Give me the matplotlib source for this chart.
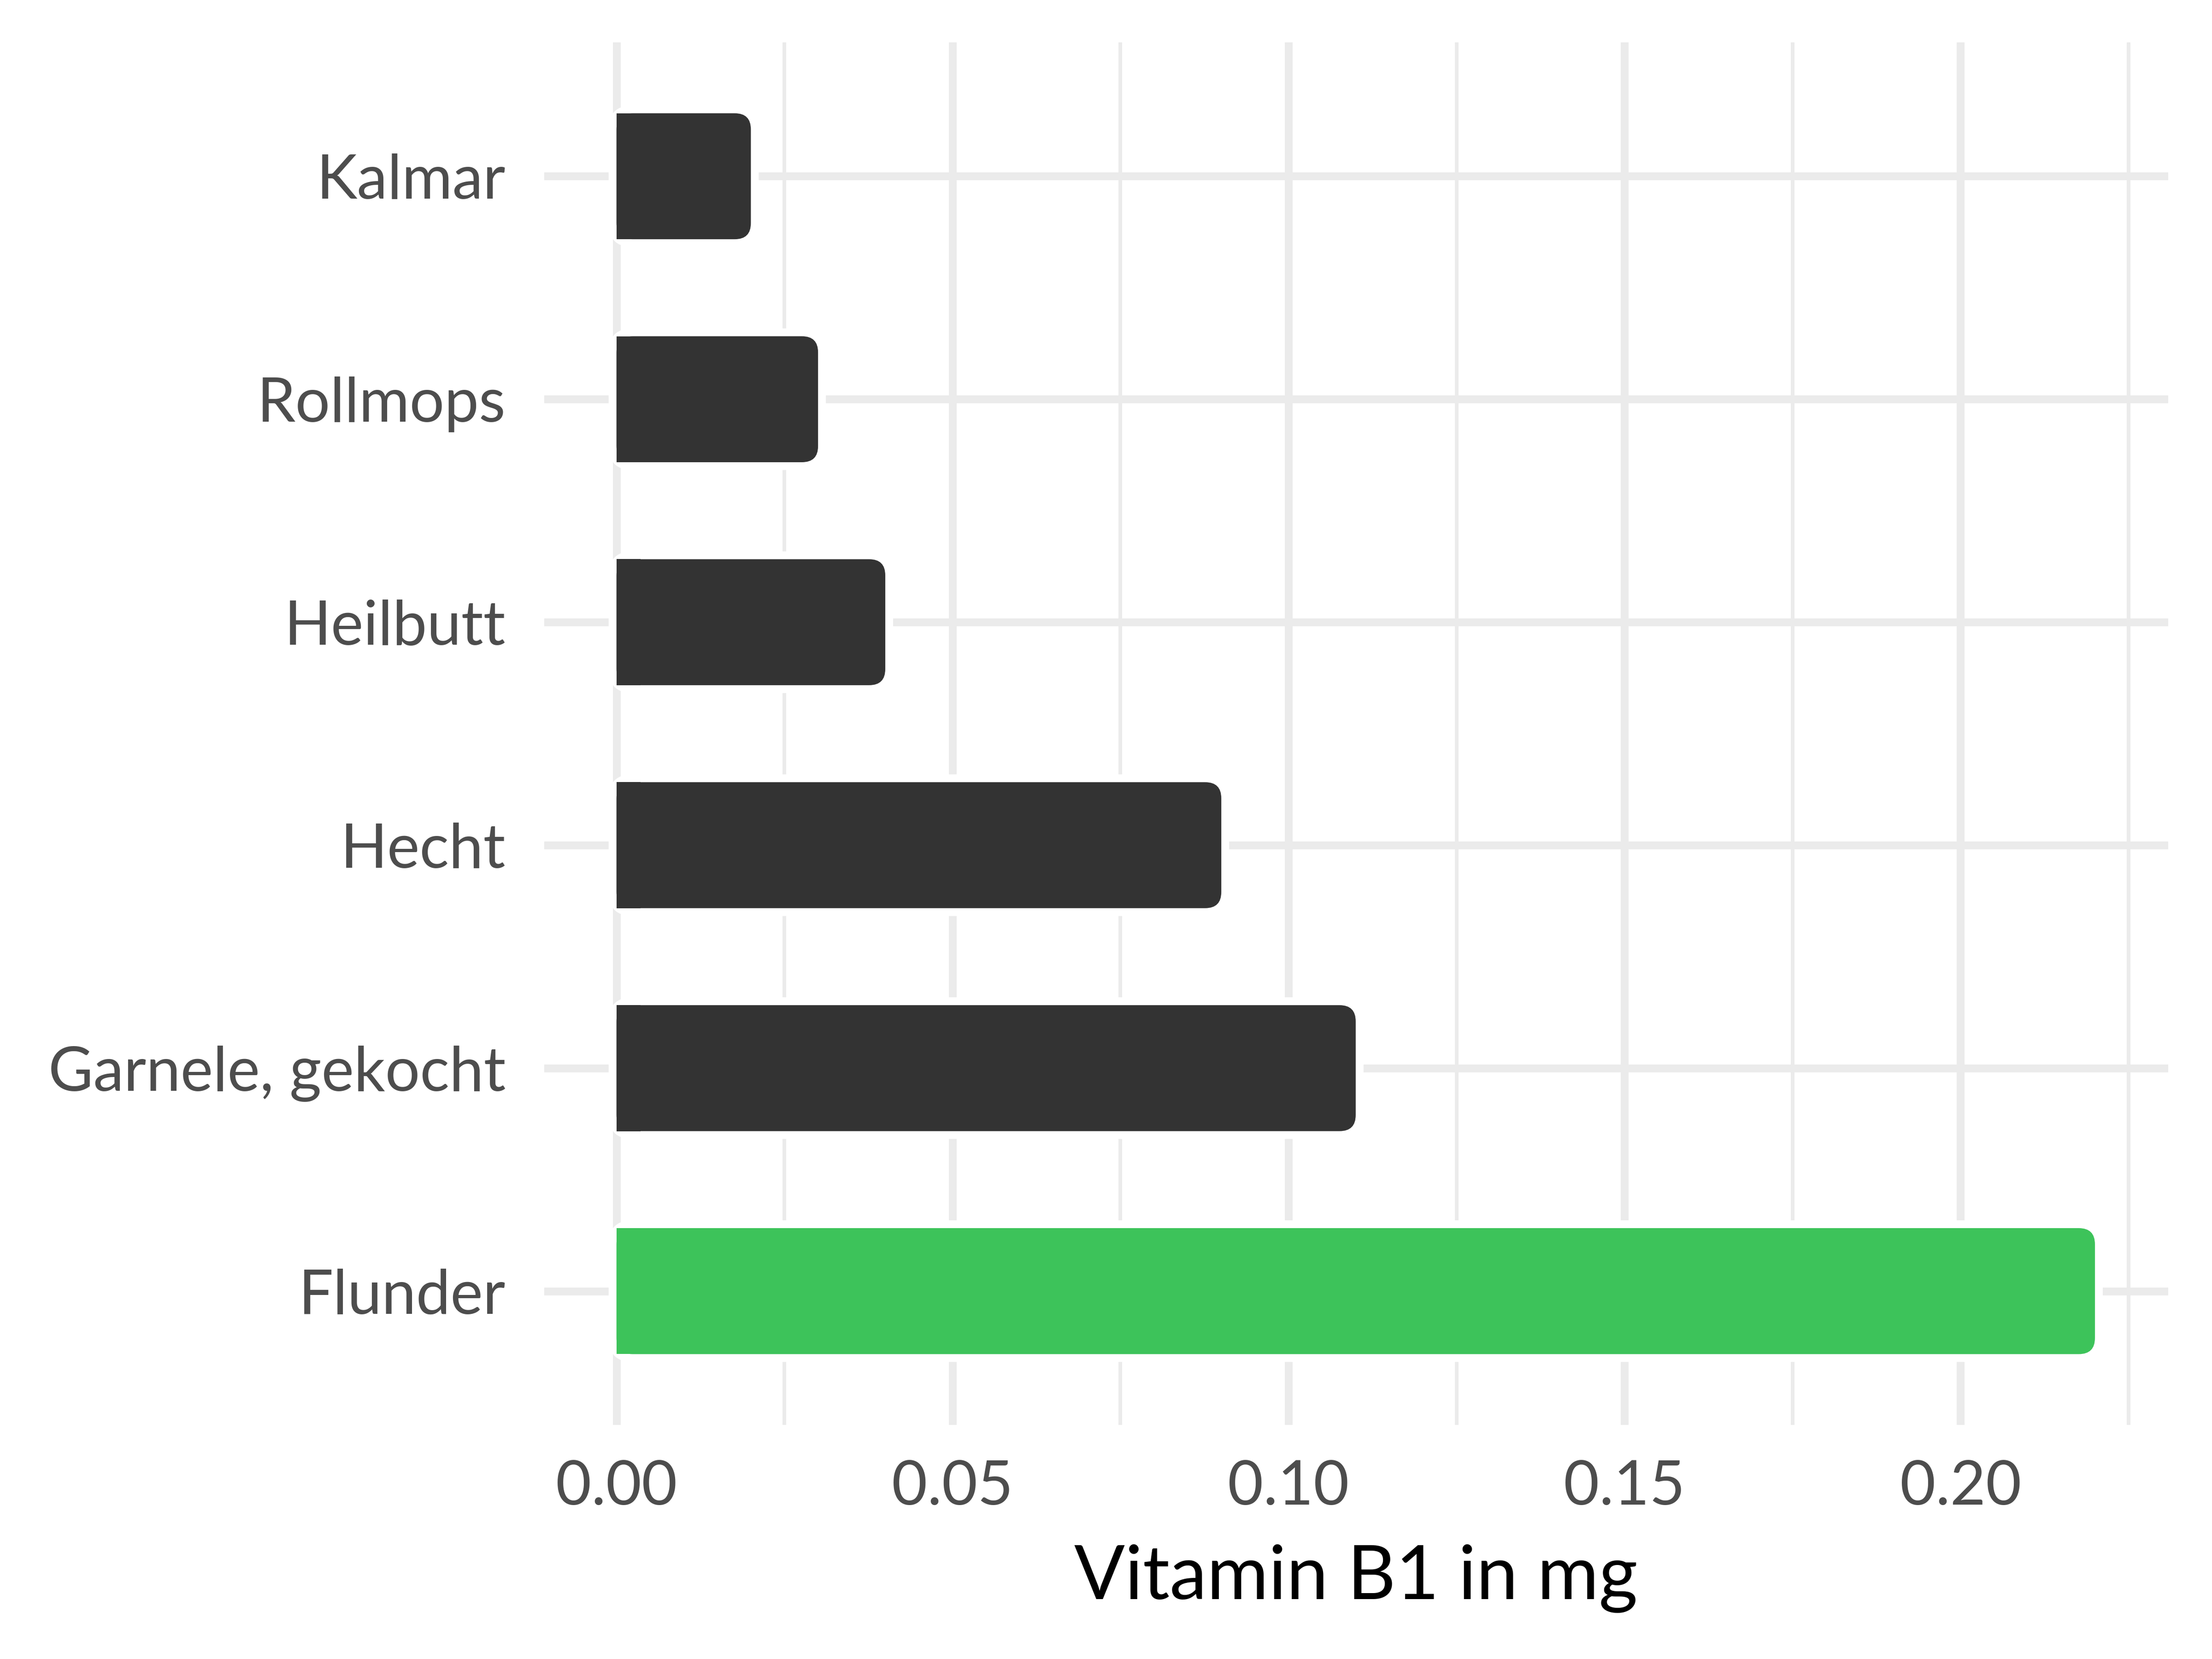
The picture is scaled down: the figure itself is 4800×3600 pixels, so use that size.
import matplotlib
matplotlib.use("Agg")
import matplotlib.pyplot as plt
from matplotlib.patches import FancyBboxPatch, Rectangle

categories = ["Flunder", "Garnele, gekocht", "Hecht", "Heilbutt", "Rollmops", "Kalmar"]
values = [0.22, 0.11, 0.09, 0.04, 0.03, 0.02]
highlight = "Flunder"
major_ticks = [0.00, 0.05, 0.10, 0.15, 0.20]
minor_ticks = [0.025, 0.075, 0.125, 0.175, 0.225]
tick_labels = ["0.00", "0.05", "0.10", "0.15", "0.20"]
xlabel = "Vitamin B1 in mg"

plt.rcParams['font.family'] = ['Lato', 'DejaVu Sans']

W, H, DPI = 16, 12, 300
fig = plt.figure(figsize=(W, H), dpi=DPI)
pos = [0.2460, 0.1411, 0.9802 - 0.2460, 0.9744 - 0.1411]
ax = fig.add_axes(pos)

xlim = (-0.01076, 0.2309)
ylim = (0.4, len(categories) + 0.6)
ax.set_xlim(*xlim)
ax.set_ylim(*ylim)

px_x = pos[2] * W * DPI / (xlim[1] - xlim[0])
px_y = pos[3] * H * DPI / (ylim[1] - ylim[0])
aspect = px_x / px_y

grid_c = "#ebebeb"
major_lw = 17 / DPI * 72
minor_lw = 8 / DPI * 72
for t in major_ticks:
    ax.axvline(t, color=grid_c, lw=major_lw, zorder=0)
for t in minor_ticks:
    ax.axvline(t, color=grid_c, lw=minor_lw, zorder=0)
ys = list(range(1, len(categories) + 1))
for y in ys:
    ax.axhline(y, color=grid_c, lw=major_lw, zorder=0)

bar_h = 0.565
r_px = 35
pad_px = 17
rx = r_px / px_x
padx = pad_px / px_x
for y, v, c in zip(ys, values, categories):
    col = "#3dc35a" if c == highlight else "#333333"
    white = FancyBboxPatch((0, y - bar_h / 2), v, bar_h,
                           boxstyle=f"round,pad={padx},rounding_size={rx + padx}",
                           mutation_aspect=aspect, fc="white", ec="none", zorder=1)
    ax.add_patch(white)
    bar = FancyBboxPatch((0, y - bar_h / 2), v, bar_h,
                         boxstyle=f"round,pad=0,rounding_size={rx}",
                         mutation_aspect=aspect, fc=col, ec="none", zorder=2)
    ax.add_patch(bar)
    ax.add_patch(Rectangle((0, y - bar_h / 2), rx * 1.5, bar_h, fc=col, ec="none", zorder=2))

ax.set_yticks(ys)
ax.set_yticklabels(categories)
ax.set_xticks(major_ticks)
ax.set_xticklabels(tick_labels)
ax.tick_params(axis="both", length=0, labelsize=32, labelcolor="#4d4d4d")
ax.tick_params(axis="y", pad=20)
ax.tick_params(axis="x", pad=18)
for s in ax.spines.values():
    s.set_visible(False)
ax.set_xlabel(xlabel, fontsize=39, color="black", labelpad=15)

fig.savefig("out.png", dpi=DPI, facecolor="white")
